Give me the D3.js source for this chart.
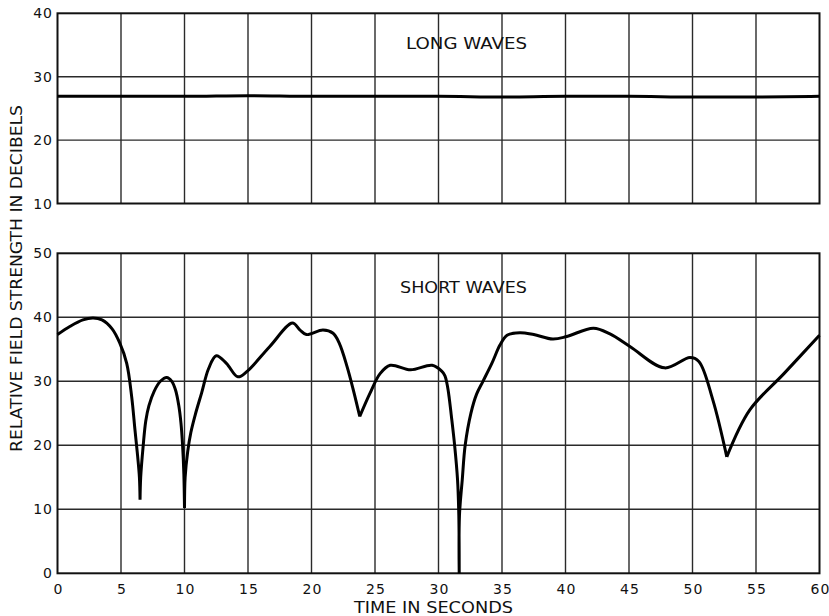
<!DOCTYPE html>
<html>
<head>
<meta charset="utf-8">
<script src="https://cdn.jsdelivr.net/npm/d3@7"></script>
<style>
  body { margin: 0; background: #fff; }
  svg { display: block; }
  .tick-lbl { font-family: "DejaVu Sans", sans-serif; font-size: 14px; fill: #111; letter-spacing: 1px; }
  .caption { font-family: "DejaVu Sans", sans-serif; font-size: 15px; fill: #111; }
  .grid { stroke: #2a2a2a; stroke-width: 1.4; }
  .frame { fill: none; stroke: #111; stroke-width: 2; }
  .curve { fill: none; stroke: #000; stroke-width: 3; stroke-linejoin: round; }
</style>
</head>
<body>
<svg id="chart" width="829" height="616"></svg>
<script>
/*------------------------
  -------- DATA ----------
  ------------------------*/
var xTicks = [0, 5, 10, 15, 20, 25, 30, 35, 40, 45, 50, 55, 60];
var longTicks = [10, 20, 30, 40];
var shortTicks = [0, 10, 20, 30, 40, 50];

var longTime = [0, 5, 10, 15, 20, 25, 30, 35, 40, 45, 50, 55, 60];
var longValue = [26.9, 26.9, 26.9, 27.0, 26.9, 26.9, 26.9, 26.8, 26.9, 26.9, 26.8, 26.8, 26.9];

var shortTime = [0, 1, 2, 2.8, 3.5, 4.3, 4.9, 5.45, 5.84, 6.1, 6.3, 6.45, 6.5,
    6.55, 6.75, 6.95, 7.2, 7.6, 8.1, 8.6, 9.0, 9.3, 9.55, 9.72, 9.85, 9.95, 10.0,
    10.05, 10.25, 10.5, 10.85, 11.35, 11.9, 12.5, 13.3, 14.2, 14.9, 16.7, 18.5, 19.1, 19.6, 20.9, 21.7, 22.2, 22.8, 23.3, 23.8,
    24.6, 25.4, 26.2, 27.8, 29.5, 30.25, 30.5, 30.7, 30.85, 31.0, 31.27, 31.5, 31.6, 31.63,
    31.65, 31.87, 32.1, 32.55, 33.0, 33.5, 34.2, 34.85, 35.4, 36.4, 37.5, 39.0, 40.1, 42.2, 43.5, 45.1, 47.8, 49.8, 50.5, 51.6, 52.7,
    54.5, 57.2, 60];
var shortValue = [37.3, 38.6, 39.6, 39.9, 39.6, 38.2, 36.0, 32.8, 27.6, 22.4, 18.5, 15.0, 11.5,
    15.0, 20.0, 23.8, 26.2, 28.4, 30.0, 30.6, 30.0, 28.6, 26.2, 23.5, 20.0, 15.5, 10.2,
    15.0, 19.0, 22.0, 24.8, 28.2, 32.0, 34.0, 32.8, 30.7, 31.5, 35.4, 39.1, 38.0, 37.3, 38.0, 37.5, 35.9, 32.3, 28.6, 24.5,
    28.1, 31.2, 32.5, 31.8, 32.5, 31.6, 30.9, 29.3, 27.3, 24.8, 20.0, 14.6, 9.0, 0.0,
    9.0, 14.6, 20.0, 25.0, 28.0, 30.0, 32.8, 35.7, 37.2, 37.6, 37.3, 36.6, 37.0, 38.3, 37.4, 35.4, 32.1, 33.7, 33.1, 27.1, 18.2,
    25.5, 31.2, 37.2];

// sharp notches in the short wave trace
var cuspTime = [6.5, 10.0, 23.8, 31.63, 52.7];

/*------------------------
  ------ LAYOUT ----------
  ------------------------*/
var svg = d3.select("#chart");
var x = d3.scaleLinear().domain([0, 60]).range([57.5, 819.5]);
var yLong = d3.scaleLinear().domain([10, 40]).range([203.5, 13.3]);
var yShort = d3.scaleLinear().domain([0, 50]).range([573.3, 253.3]);

function draw_panel(y, yTicks, inner) {
    var g = svg.append("g");
    var top = y.range()[1], bot = y.range()[0];

    g.selectAll(".vgrid")
        .data(xTicks.slice(1, -1))
        .enter().append("line")
        .attr("class", "grid")
        .attr("x1", x).attr("x2", x)
        .attr("y1", top).attr("y2", bot);

    g.selectAll(".hgrid")
        .data(inner)
        .enter().append("line")
        .attr("class", "grid")
        .attr("x1", x(0)).attr("x2", x(60))
        .attr("y1", y).attr("y2", y);

    g.append("rect")
        .attr("class", "frame")
        .attr("x", x(0)).attr("y", top)
        .attr("width", x(60) - x(0))
        .attr("height", bot - top);

    g.selectAll(".ylbl")
        .data(yTicks)
        .enter().append("text")
        .attr("class", "tick-lbl")
        .attr("x", 53)
        .attr("y", function(d) { return y(d) + 5; })
        .attr("text-anchor", "end")
        .text(function(d) { return d; });
    return g;
}

var gLong = draw_panel(yLong, longTicks, [20, 30]);
var gShort = draw_panel(yShort, shortTicks, [10, 20, 30, 40]);

/*------------------------
  ------ CURVES ----------
  ------------------------*/
var longLine = d3.line()
    .x(function(d) { return x(d[0]); })
    .y(function(d) { return yLong(d[1]); })
    .curve(d3.curveMonotoneX);

gLong.append("path")
    .attr("class", "curve")
    .attr("d", longLine(d3.zip(longTime, longValue)));

// split the short wave trace at its cusps so the dips stay sharp
var shortLine = d3.line()
    .x(function(d) { return x(d[0]); })
    .y(function(d) { return yShort(d[1]); })
    .curve(d3.curveCatmullRom.alpha(0.5));

var pts = d3.zip(shortTime, shortValue);
var segs = [], cur = [];
pts.forEach(function(p) {
    cur.push(p);
    if (cuspTime.indexOf(p[0]) >= 0) {
        segs.push(cur);
        cur = [p];
    }
});
segs.push(cur);

gShort.append("path")
    .attr("class", "curve")
    .attr("d", segs.map(function(s) { return shortLine(s); }).join(""));

/*------------------------
  ------ LABELS ----------
  ------------------------*/
svg.selectAll(".xlbl")
    .data(xTicks)
    .enter().append("text")
    .attr("class", "tick-lbl")
    .attr("x", function(d) { return x(d) + 1; })
    .attr("y", 593.5)
    .attr("text-anchor", "middle")
    .text(function(d) { return d; });

svg.append("text")
    .attr("class", "caption")
    .attr("x", 354).attr("y", 613)
    .attr("textLength", 159).attr("lengthAdjust", "spacingAndGlyphs")
    .text("TIME IN SECONDS");

svg.append("text")
    .attr("class", "caption")
    .attr("x", 406).attr("y", 48.5)
    .attr("textLength", 121).attr("lengthAdjust", "spacingAndGlyphs")
    .text("LONG WAVES");

svg.append("text")
    .attr("class", "caption")
    .attr("x", 400).attr("y", 292.5)
    .attr("textLength", 127).attr("lengthAdjust", "spacingAndGlyphs")
    .text("SHORT WAVES");

svg.append("text")
    .attr("class", "caption")
    .attr("transform", "translate(21.5,452) rotate(-90)")
    .attr("textLength", 347).attr("lengthAdjust", "spacingAndGlyphs")
    .text("RELATIVE FIELD STRENGTH IN DECIBELS");
</script>
</body>
</html>
